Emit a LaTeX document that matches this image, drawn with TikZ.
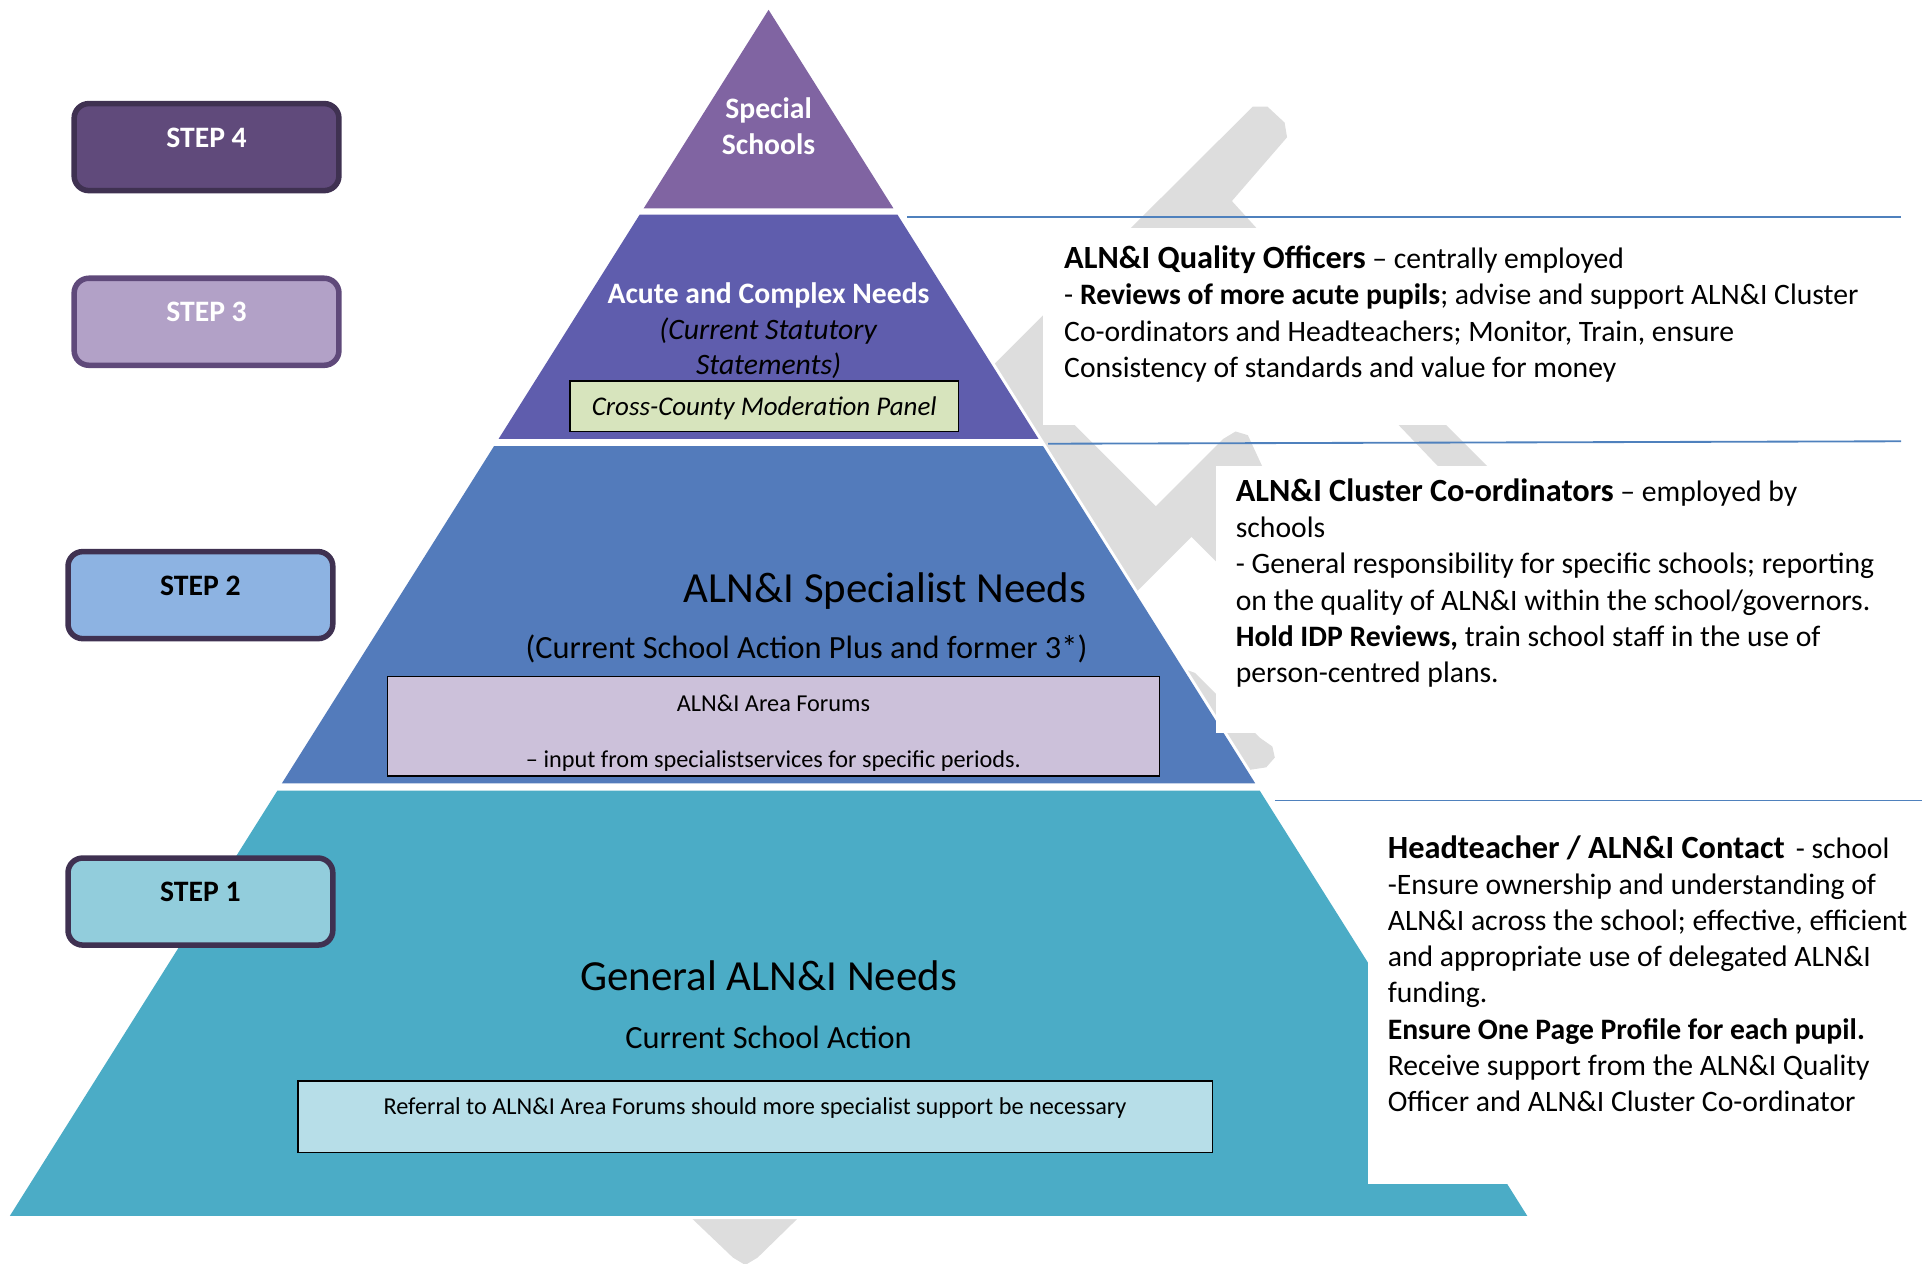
\documentclass[tikz,border=0pt]{standalone}
\usepackage{fontspec}
\setmainfont{Carlito}
\usepackage{tikz}
\usetikzlibrary{shapes,backgrounds}

\definecolor{tipcol}{HTML}{8064A2}
\definecolor{acutecol}{HTML}{5F5DAD}
\definecolor{speccol}{HTML}{537BBB}
\definecolor{gencol}{HTML}{4BACC6}
\definecolor{stepfour}{HTML}{604A7B}
\definecolor{stepthree}{HTML}{B2A1C7}
\definecolor{steptwo}{HTML}{8DB3E2}
\definecolor{stepone}{HTML}{92CDDC}
\definecolor{stepedge}{HTML}{3F3151}
\definecolor{stepedgelight}{HTML}{5F497A}
\definecolor{panelgreen}{HTML}{D7E4BD}
\definecolor{panellilac}{HTML}{CCC1DA}
\definecolor{panelblue}{HTML}{B7DEE8}
\definecolor{rulecol}{HTML}{4F81BD}
\definecolor{markgray}{HTML}{DDDDDD}

\newcommand{\bodysize}{\fontsize{24.2}{29.5}\selectfont}
\newcommand{\headsize}{\fontsize{26.4}{29.5}\selectfont}
\newcommand{\smallsize}{\fontsize{19.8}{46}\selectfont}
\newcommand{\bigsize}{\fontsize{35}{42}\selectfont}
\newcommand{\midsize}{\fontsize{26.4}{32}\selectfont}
\newcommand{\rolehead}[1]{{\headsize\bfseries #1}}

\begin{document}
\begin{tikzpicture}[x=1pt, y=-1pt,
	stepbox/.style={rounded corners=12pt, line width=4.5pt, minimum width=216pt, minimum height=71pt,
		font=\bfseries\bodysize, text height=12pt, text depth=12pt},
	panel/.style={draw=black, line width=1.2pt, inner sep=0pt},
	infotext/.style={anchor=north west, align=left, inner sep=0pt, font=\bodysize}]
			\useasboundingbox (0,0) rectangle (1568,1031);
			% faint mark behind the pyramid
			\fill[markgray] (1022,87) -- (1034,87) -- (1048,100) -- (1050,112) -- (1005,164) -- (1025,186) -- (1040,250) -- (876,346) -- (943,413) -- (998,358) -- (1008,352) -- (1018,355) -- (1030,381) -- (1060,411) -- (1000,430) -- (992,458) -- (972,438) -- (915,495) -- (790,318) -- cycle;
			\fill[markgray] (950,540) -- (975,549) -- (1028,602) -- (1038,609) -- (1040,618) -- (1033,626) -- (1020,628) -- (1000,622) -- cycle;
			\fill[markgray] (1125,330) -- (1163,330) -- (1230,397) -- (1189,397) -- cycle;
			\fill[markgray] (555,985) -- (660,985) -- (618,1026) -- (608,1032) -- (598,1026) -- cycle;
			% pyramid
			\filldraw[white, line width=5pt, line join=round] (627,8) -- (8,992) -- (1246,992) -- cycle;
			\fill[tipcol] (627,8) -- (728.9,170) -- (525.1,170) -- cycle;
			\fill[acutecol] (521.9,175) -- (732.1,175) -- (847.2,358) -- (406.8,358) -- cycle;
			\fill[speccol] (403,364) -- (851,364) -- (1024,639) -- (230,639) -- cycle;
			\fill[gencol] (226.3,645) -- (1027.7,645) -- (1246,992) -- (8,992) -- cycle;
			% text boxes on the right
			\fill[white] (851,186) rectangle (1568,347);
			\fill[white] (992,380) rectangle (1568,598);
			\fill[white] (1116,665) rectangle (1568,966);
			\draw[rulecol, line width=1.5pt] (740,177) -- (1551,177);
			\draw[rulecol, line width=1.5pt] (855,362) -- (1551,360);
			\draw[rulecol, line width=1.5pt] (1040,653) -- (1568,653);
			% steps
			\foreach \n/\cx/\cy/\fc/\ec/\tc in {4/168.5/120/stepfour/stepedge/white, 3/168.5/262.5/stepthree/stepedgelight/white, 2/163.5/485.5/steptwo/stepedge/black, 1/163.5/735.5/stepone/stepedge/black}
			\node[stepbox, fill=\fc, draw=\ec, text=\tc] (step\n) at (\cx,\cy) {STEP \n};
			% pyramid texts
			\node[font=\bfseries\fontsize{24.2}{29}\selectfont, text=white, align=center] (special) at (627,103) {Special\\Schools};
			\node[font=\fontsize{24.2}{29}\selectfont, align=center] (acute) at (627,270) {\textcolor{white}{\textbf{Acute and Complex Needs}}\\\textit{(Current Statutory}\\\textit{Statements)}};
			\node[panel, fill=panelgreen, minimum width=317pt, minimum height=41pt, font=\fontsize{22}{26}\selectfont, text height=17pt, text depth=2pt] (moderation) at (623.5,331.5) {\textit{Cross-County Moderation Panel}};
			\node[font=\bigsize] (specialist) at (722,482) {ALN\&I Specialist Needs};
			\node[font=\midsize] (plus) at (658,529) {(Current School Action Plus and former 3*)};
			\node[panel, fill=panellilac, minimum width=630pt, minimum height=81pt] (forums) at (631,592.5) {};
			\node[font=\smallsize, align=center] (forumstext) at (631,598) {ALN\&I Area Forums\\– input from specialistservices for specific periods.};
			\node[font=\bigsize] (general) at (627,796) {General ALN\&I Needs};
			\node[font=\midsize] (action) at (627,846) {Current School Action};
			\node[panel, fill=panelblue, minimum width=746pt, minimum height=58pt, font=\smallsize, text height=14pt, text depth=17pt] (referral) at (616,911) {Referral to ALN\&I Area Forums should more specialist support be necessary};
			% who does what
			\node[infotext] (quality) at (868,200.5) {\rolehead{ALN\&I Quality Officers} – centrally employed\\- \textbf{Reviews of more acute pupils}; advise and support ALN\&I Cluster\\Co-ordinators and Headteachers; Monitor, Train, ensure\\Consistency of standards and value for money};
			\node[infotext] (cluster) at (1008,390.5) {\rolehead{ALN\&I Cluster Co-ordinators} – employed by\\schools\\- General responsibility for specific schools; reporting\\on the quality of ALN\&I within the school/governors.\\\textbf{Hold IDP Reviews,} train school staff in the use of\\person-centred plans.};
			\node[infotext] (head) at (1132,681.5) {\rolehead{Headteacher / ALN\&I Contact}\hspace{9pt}- school\\-Ensure ownership and understanding of\\ALN\&I across the school; effective, efficient\\and appropriate use of delegated ALN\&I\\funding.\\\textbf{Ensure One Page Profile for each pupil.}\\Receive support from the ALN\&I Quality\\Officer and ALN\&I Cluster Co-ordinator};
		\end{tikzpicture}
\end{document}
